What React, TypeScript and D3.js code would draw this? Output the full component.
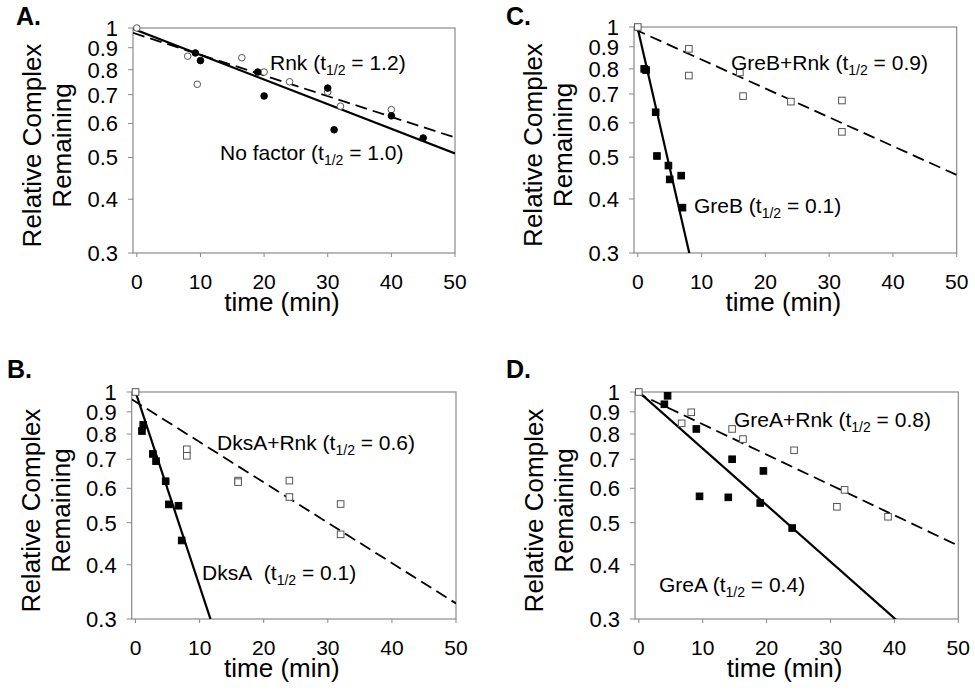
import React from "react";
import * as d3 from "d3";

// A. no factor / Rnk
const noFactorTime = [9.2, 10, 19, 20, 30, 31, 40, 45];
const noFactorVal = [0.875, 0.84, 0.79, 0.695, 0.725, 0.58, 0.625, 0.555];
const rnkTime = [0, 8, 9.5, 16.5, 20, 24, 30, 32, 40];
const rnkVal = [1.0, 0.86, 0.74, 0.853, 0.79, 0.75, 0.71, 0.658, 0.646];

// B. DksA / DksA+Rnk
const dksATime = [1, 1.2, 2.7, 3.2, 4.7, 5.2, 6.7, 7.2];
const dksAVal = [0.813, 0.84, 0.72, 0.693, 0.623, 0.551, 0.547, 0.455];
const dksARnkTime = [0, 8, 8, 16, 16, 24, 24, 32, 32];
const dksARnkVal = [1.0, 0.738, 0.713, 0.625, 0.62, 0.625, 0.573, 0.552, 0.47];

// C. GreB / GreB+Rnk
const greBTime = [1, 1.3, 2.8, 3, 4.8, 5, 6.8, 7];
const greBVal = [0.8, 0.795, 0.635, 0.503, 0.478, 0.444, 0.453, 0.382];
const greBRnkTime = [0, 8, 8, 16, 16.5, 24, 32, 32];
const greBRnkVal = [1.0, 0.89, 0.772, 0.785, 0.692, 0.672, 0.676, 0.572];

// D. GreA / GreA+Rnk
const greATime = [4, 4.5, 9, 9.5, 14, 14.6, 19, 19.5, 24];
const greAVal = [0.937, 0.98, 0.822, 0.575, 0.572, 0.7, 0.555, 0.658, 0.486];
const greARnkTime = [0, 6.7, 8.2, 14.6, 16.3, 24.3, 31, 32.2, 39];
const greARnkVal = [1.0, 0.847, 0.898, 0.822, 0.779, 0.734, 0.544, 0.595, 0.516];

// exponential trendlines, y = a * exp(-k * t) -> [a, k]
const noFactorFit = [0.988, 0.01319];
const rnkFit = [0.968, 0.01107];
const dksAFit = [1.0, 0.103];
const dksARnkFit = [0.95, 0.0214];
const greBFit = [0.99, 0.148];
const greBRnkFit = [0.98, 0.01536];
const greAFit = [1.0, 0.03];
const greARnkFit = [0.99, 0.0161];

const timeTicks = [0, 10, 20, 30, 40, 50];
const fractionTicks = [1, 0.9, 0.8, 0.7, 0.6, 0.5, 0.4, 0.3];

const font = "Arial, 'Liberation Sans', sans-serif";

type Series = {
  t: number[];
  v: number[];
  fit: number[];
  shape: "circle" | "square";
  filled: boolean;
  dashed: boolean;
};

type Note = { name: string; half: string; x: number; y: number };

type PanelProps = {
  label: string;
  labelX: number;
  labelY: number;
  left: number;
  right: number;
  top: number;
  bottom: number;
  series: Series[];
  notes: Note[];
};

const Panel = (p: PanelProps) => {
  const x = d3.scaleLinear().domain([-0.6, 50]).range([p.left, p.right]);
  const y = d3.scaleLog().domain([0.3, 1]).range([p.bottom, p.top]);
  const clipId = "clip" + p.label;
  const line = d3
    .line<number[]>()
    .x(d => x(d[0]))
    .y(d => y(d[1]));
  const cx = (p.left + p.right) / 2;
  const cy = (p.top + p.bottom) / 2 + 5;

  return (
    <g>
      <defs>
        <clipPath id={clipId}>
          <rect x={p.left} y={p.top} width={p.right - p.left} height={p.bottom - p.top} />
        </clipPath>
      </defs>
      <text x={p.labelX} y={p.labelY} fontSize={25} fontWeight="bold" fontFamily={font}>
        {p.label}.
      </text>
      <rect
        x={p.left}
        y={p.top}
        width={p.right - p.left}
        height={p.bottom - p.top}
        fill="none"
        stroke="#8a8a8a"
        strokeWidth={1.2}
      />
      {fractionTicks.map(v => (
        <g key={v}>
          <line x1={p.left - 5} x2={p.left} y1={y(v)} y2={y(v)} stroke="#8a8a8a" />
          <text
            x={p.left - 15}
            y={y(v)}
            dy="0.36em"
            textAnchor="end"
            fontSize={22}
            fontFamily={font}
          >
            {String(v)}
          </text>
        </g>
      ))}
      {timeTicks.map(t => (
        <g key={t}>
          <line x1={x(t)} x2={x(t)} y1={p.bottom} y2={p.bottom + 4} stroke="#8a8a8a" />
          <text x={x(t)} y={p.bottom + 36} textAnchor="middle" fontSize={21} fontFamily={font}>
            {t}
          </text>
        </g>
      ))}
      <text x={cx - 12} y={p.bottom + 58} textAnchor="middle" fontSize={26} fontFamily={font}>
        time (min)
      </text>
      <text
        transform={`translate(${p.left - 92},${cy}) rotate(-90)`}
        textAnchor="middle"
        fontSize={26}
        fontFamily={font}
      >
        Relative Complex
      </text>
      <text
        transform={`translate(${p.left - 62},${cy}) rotate(-90)`}
        textAnchor="middle"
        fontSize={26}
        fontFamily={font}
      >
        Remaining
      </text>

      <g clipPath={`url(#${clipId})`}>
        {p.series.map((s, i) => {
          const ends = [-0.6, 50].map(t => [t, s.fit[0] * Math.exp(-s.fit[1] * t)]);
          return (
            <path
              key={i}
              d={line(ends) || ""}
              fill="none"
              stroke="#000"
              strokeWidth={s.dashed ? 1.8 : 2.2}
              strokeDasharray={s.dashed ? "12,6" : undefined}
            />
          );
        })}
      </g>
      {p.series.map((s, i) => (
        <g key={i}>
          {s.t.map((t, j) =>
            s.shape === "circle" ? (
              <circle
                key={j}
                cx={x(t)}
                cy={y(s.v[j])}
                r={3.3}
                fill={s.filled ? "#000" : "#fff"}
                stroke={s.filled ? "#000" : "#555"}
                strokeWidth={1}
              />
            ) : (
              <rect
                key={j}
                x={x(t) - 3.3}
                y={y(s.v[j]) - 3.3}
                width={6.6}
                height={6.6}
                fill={s.filled ? "#000" : "#fff"}
                stroke={s.filled ? "#000" : "#555"}
                strokeWidth={1}
              />
            )
          )}
        </g>
      ))}
      {p.notes.map((n, i) => (
        <text key={i} x={n.x} y={n.y} fontSize={21} fontFamily={font}>
          {n.name} (t
          <tspan fontSize={14} dy={5}>
            1/2
          </tspan>
          <tspan dy={-5}> = {n.half})</tspan>
        </text>
      ))}
    </g>
  );
};

const App = () => {
  return (
    <svg
      width={975}
      height={693}
      style={{ position: "absolute", left: 0, top: 0, background: "#fff" }}
    >
      <rect width={975} height={693} fill="#fff" />
      <Panel
        label="A"
        labelX={16}
        labelY={25}
        left={133}
        right={455}
        top={28}
        bottom={253}
        series={[
          { t: rnkTime, v: rnkVal, fit: rnkFit, shape: "circle", filled: false, dashed: true },
          { t: noFactorTime, v: noFactorVal, fit: noFactorFit, shape: "circle", filled: true, dashed: false }
        ]}
        notes={[
          { name: "Rnk", half: "1.2", x: 270, y: 70 },
          { name: "No factor", half: "1.0", x: 220, y: 160 }
        ]}
      />
      <Panel
        label="B"
        labelX={7}
        labelY={378}
        left={131.7}
        right={456}
        top={392}
        bottom={619}
        series={[
          { t: dksARnkTime, v: dksARnkVal, fit: dksARnkFit, shape: "square", filled: false, dashed: true },
          { t: dksATime, v: dksAVal, fit: dksAFit, shape: "square", filled: true, dashed: false }
        ]}
        notes={[
          { name: "DksA+Rnk", half: "0.6", x: 217, y: 450 },
          { name: "DksA\u00a0", half: "0.1", x: 202, y: 580 }
        ]}
      />
      <Panel
        label="C"
        labelX={506}
        labelY={25}
        left={634}
        right={956.7}
        top={27}
        bottom={253}
        series={[
          { t: greBRnkTime, v: greBRnkVal, fit: greBRnkFit, shape: "square", filled: false, dashed: true },
          { t: greBTime, v: greBVal, fit: greBFit, shape: "square", filled: true, dashed: false }
        ]}
        notes={[
          { name: "GreB+Rnk", half: "0.9", x: 731, y: 70 },
          { name: "GreB", half: "0.1", x: 694, y: 213 }
        ]}
      />
      <Panel
        label="D"
        labelX={506}
        labelY={378}
        left={635}
        right={958.3}
        top={392}
        bottom={619}
        series={[
          { t: greARnkTime, v: greARnkVal, fit: greARnkFit, shape: "square", filled: false, dashed: true },
          { t: greATime, v: greAVal, fit: greAFit, shape: "square", filled: true, dashed: false }
        ]}
        notes={[
          { name: "GreA+Rnk", half: "0.8", x: 734, y: 427 },
          { name: "GreA", half: "0.4", x: 659, y: 592 }
        ]}
      />
    </svg>
  );
};

export default App;
